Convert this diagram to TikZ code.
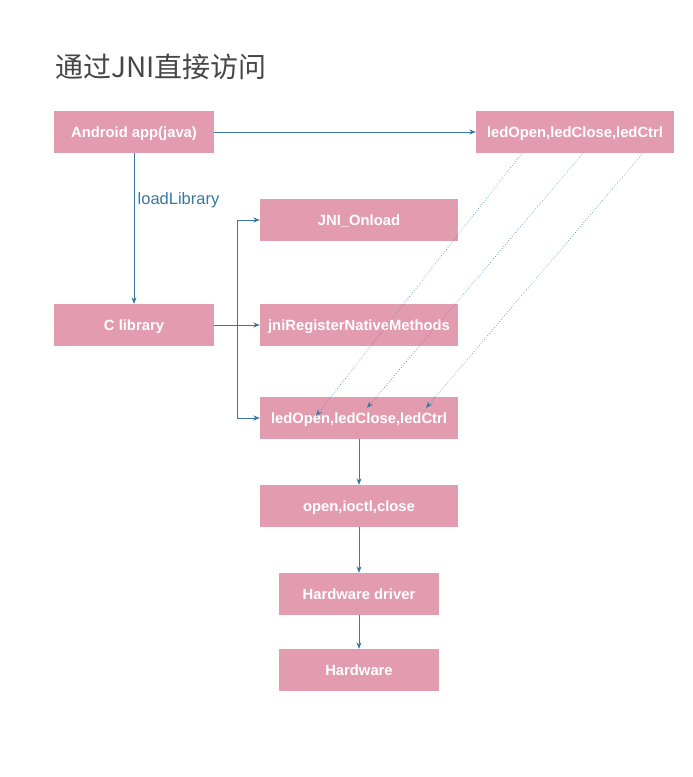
\documentclass[tikz,border=0pt]{standalone}
\usepackage{fontspec}
\setmainfont{Liberation Sans}
\newfontfamily\cjk{Noto Sans CJK SC}
\usetikzlibrary{arrows.meta}
\definecolor{boxpink}{RGB}{227,155,176}
\definecolor{linkblue}{RGB}{56,120,160}
\definecolor{titlegray}{RGB}{70,70,70}
\tikzset{
  box/.style={fill=boxpink, draw=none, inner sep=0pt, minimum height=42pt,
    text height=10.4pt, text depth=0pt,
    text=white, font=\fontsize{14.8}{16}\selectfont\bfseries},
  wide/.style={box, minimum width=198pt},
  mid/.style={box, minimum width=160pt},
  link/.style={draw=linkblue, line width=0.7pt, -{Stealth[length=6.5pt,width=5pt]}},
  dotlink/.style={draw=linkblue, line width=0.6pt, dash pattern=on 0.6pt off 2pt, -{Stealth[length=6.5pt,width=5pt]}}
}
\begin{document}
\begin{tikzpicture}[x=1pt,y=-1pt]
\useasboundingbox (0,0) rectangle (693,777);
\fill[white] (0,0) rectangle (693,777);
\node[anchor=west, text=titlegray, font=\cjk\fontsize{28}{30}\selectfont] (title) at (52,67) {通过JNI直接访问};
\node[mid] (app) at (134,132) {Android app(java)};
\node[wide] (jled) at (575,132) {ledOpen,ledClose,ledCtrl};
\node[wide] (onload) at (359,220) {JNI\_Onload};
\node[mid] (clib) at (134,325) {C library};
\node[wide] (reg) at (359,325) {jniRegisterNativeMethods};
\node[wide] (cled) at (359,418) {ledOpen,ledClose,ledCtrl};
\node[wide] (sys) at (359,506) {open,ioctl,close};
\node[mid] (drv) at (359,594) {Hardware driver};
\node[mid] (hw) at (359,670) {Hardware};
% connectors
\draw[link] (app.east) -- (jled.west);
\draw[link] (app.south) -- node[right, pos=0.31, text=linkblue, font=\fontsize{16.5}{18}\selectfont, xshift=0pt] {loadLibrary} (clib.north);
\draw[link] (clib.east) -- (reg.west);
\coordinate (br) at (237,325);
\draw[link] (br) |- (onload.west);
\draw[link] (br) |- (cled.west);
\draw[link] (cled.south) -- (sys.north);
\draw[link] (sys.south) -- (drv.north);
\draw[link] (drv.south) -- (hw.north);
% dotted mappings
\coordinate (s1) at (522,153);
\coordinate (s2) at (583,153);
\coordinate (s3) at (643,153);
\coordinate (e1) at (316,416);
\coordinate (e2) at (367,408);
\coordinate (e3) at (426,408);
\draw[dotlink] (s1) -- (e1);
\draw[dotlink] (s2) -- (e2);
\draw[dotlink] (s3) -- (e3);
\end{tikzpicture}
\end{document}
